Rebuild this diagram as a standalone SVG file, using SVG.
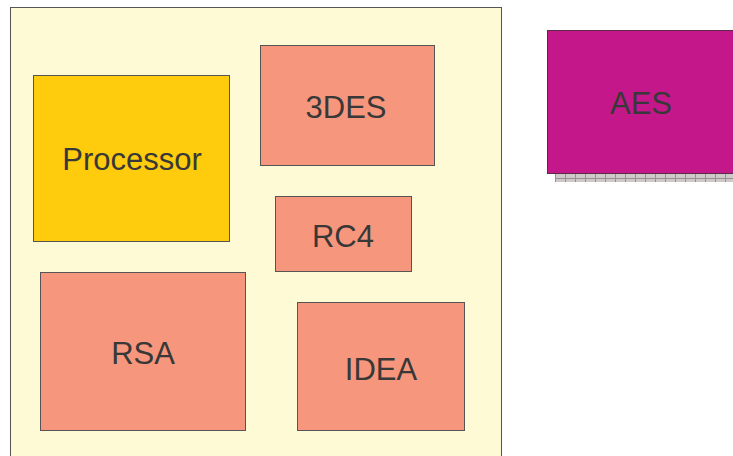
<svg xmlns="http://www.w3.org/2000/svg" width="733" height="456" viewBox="0 0 733 456">
  <style>
    .box { stroke: #555555; stroke-width: 1; }
    .cipher { fill: #F6967C; }
    .label { font-family: "Liberation Sans", Arial, sans-serif; font-size: 31px; fill: #383838; text-anchor: middle; }
  </style>
  <defs>
    <pattern id="grid" x="555" y="173" width="10" height="5" patternUnits="userSpaceOnUse">
      <rect width="10" height="5" fill="#CFC8C8"/>
      <path d="M0 0.5 H10 M0.5 0 V5" stroke="#9A9090" stroke-width="1" fill="none"/>
    </pattern>
  </defs>

  <!-- chip boundary -->
  <g id="chip">
    <rect x="10.5" y="7.5" width="491" height="460" fill="#FFFAD6" stroke="#555555"/>
  </g>

  <g id="processor">
    <rect class="box" x="33.5" y="75.5" width="196" height="166" fill="#FECC0C"/>
    <text class="label" x="132" y="170">Processor</text>
  </g>

  <g id="des3">
    <rect class="box cipher" x="260.5" y="45.5" width="174" height="120"/>
    <text class="label" x="346" y="118">3DES</text>
  </g>

  <g id="rc4">
    <rect class="box cipher" x="275.5" y="196.5" width="136" height="75"/>
    <text class="label" x="343" y="247">RC4</text>
  </g>

  <g id="rsa">
    <rect class="box cipher" x="40.5" y="272.5" width="205" height="158"/>
    <text class="label" x="143" y="364">RSA</text>
  </g>

  <g id="idea">
    <rect class="box cipher" x="297.5" y="302.5" width="167" height="128"/>
    <text class="label" x="381" y="380">IDEA</text>
  </g>

  <g id="aes">
    <rect x="555" y="173" width="180" height="9" fill="url(#grid)"/>
    <rect x="547.5" y="30.5" width="190" height="143" fill="#C4188A" stroke="#5A2A48"/>
    <text class="label" x="641" y="114">AES</text>
  </g>

  <g id="connectors"/>
</svg>
